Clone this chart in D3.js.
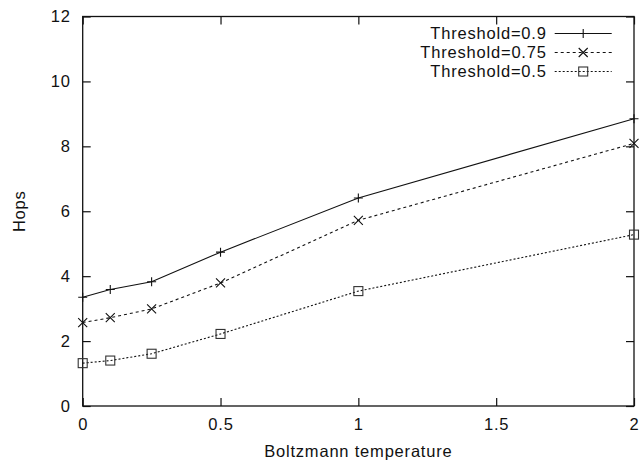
<!DOCTYPE html>
<html>
<head>
<meta charset="utf-8">
<script src="https://cdn.jsdelivr.net/npm/d3@7"></script>
<style>
  body { margin: 0; background: #fff; }
  text { font-family: "Liberation Sans", Arial, sans-serif; fill: #111; letter-spacing: 0.8px; }
</style>
</head>
<body>
<div id="chart"></div>
<script>
// data
let temps = [0, 0.1, 0.25, 0.5, 1, 2];
let hops090 = [3.35, 3.59, 3.83, 4.74, 6.41, 8.85];
let hops075 = [2.57, 2.72, 2.99, 3.79, 5.72, 8.09];
let hops050 = [1.32, 1.40, 1.61, 2.22, 3.54, 5.28];
let seriesNames = ["Threshold=0.9", "Threshold=0.75", "Threshold=0.5"];
let xTicks = [0, 0.5, 1, 1.5, 2];
let yTicks = [0, 2, 4, 6, 8, 10, 12];

let margin = {top: 16.5, right: 7, bottom: 57, left: 82.7};
let W = 641, H = 463;
let width = W - margin.left - margin.right;
let height = H - margin.top - margin.bottom;
let fontSize = "16.5px";

let svg = d3.select("#chart").append("svg")
    .attr("width", W)
    .attr("height", H)
    .append("g")
    .attr("transform", "translate(" + margin.left + "," + margin.top + ")");

let x = d3.scaleLinear().domain([0, 2]).range([0, width]);
let y = d3.scaleLinear().domain([0, 12]).range([height, 0]);

// axes with inward ticks, mirrored on top/right
let tickLen = 8;
svg.append("g")
    .attr("transform", "translate(0," + height + ")")
    .call(d3.axisBottom(x).tickValues(xTicks).tickSizeInner(-tickLen).tickSizeOuter(0)
        .tickPadding(12).tickFormat(d3.format("")))
    .call(g => g.select(".domain").remove());
svg.append("g")
    .call(d3.axisTop(x).tickValues(xTicks).tickSizeInner(-tickLen).tickSizeOuter(0).tickFormat(""))
    .call(g => g.select(".domain").remove());
svg.append("g")
    .call(d3.axisLeft(y).tickValues(yTicks).tickSizeInner(-tickLen).tickSizeOuter(0).tickPadding(12))
    .call(g => g.select(".domain").remove());
svg.append("g")
    .attr("transform", "translate(" + width + ",0)")
    .call(d3.axisRight(y).tickValues(yTicks).tickSizeInner(-tickLen).tickSizeOuter(0).tickFormat(""))
    .call(g => g.select(".domain").remove());

svg.selectAll(".tick line").attr("stroke", "#111").attr("stroke-width", 1.2);
svg.selectAll(".tick text")
    .style("font-size", fontSize)
    .style("font-family", "Liberation Sans, Arial, sans-serif")
    .style("fill", "#111");

// frame
svg.append("rect")
    .attr("width", width)
    .attr("height", height)
    .attr("fill", "none")
    .attr("stroke", "#111")
    .attr("stroke-width", 1.3);

// axis labels
svg.append("text")
    .attr("x", width / 2)
    .attr("y", height + 51)
    .attr("text-anchor", "middle")
    .style("font-size", fontSize)
    .text("Boltzmann temperature");

svg.append("text")
    .attr("transform", "rotate(-90)")
    .attr("x", -height / 2)
    .attr("y", -58)
    .attr("text-anchor", "middle")
    .style("font-size", fontSize)
    .text("Hops");

let series = [
    {name: seriesNames[0], values: hops090, dash: null, marker: "plus"},
    {name: seriesNames[1], values: hops075, dash: "3,3", marker: "cross"},
    {name: seriesNames[2], values: hops050, dash: "2,2", marker: "square"}
];

let line = d3.line()
    .x((d, i) => x(temps[i]))
    .y(d => y(d));

function drawMarker(g, type, cx, cy) {
    let s = 4.5;
    if (type === "plus") {
        g.append("path")
            .attr("d", `M${cx - s},${cy}H${cx + s}M${cx},${cy - s}V${cy + s}`)
            .attr("stroke", "#111").attr("stroke-width", 1.1).attr("fill", "none");
    } else if (type === "cross") {
        g.append("path")
            .attr("d", `M${cx - s},${cy - s}L${cx + s},${cy + s}M${cx - s},${cy + s}L${cx + s},${cy - s}`)
            .attr("stroke", "#111").attr("stroke-width", 1.1).attr("fill", "none");
    } else {
        g.append("rect")
            .attr("x", cx - s).attr("y", cy - s)
            .attr("width", 2 * s).attr("height", 2 * s)
            .attr("stroke", "#333").attr("stroke-width", 1.1).attr("fill", "none");
    }
}

series.forEach(sr => {
    svg.append("path")
        .datum(sr.values)
        .attr("fill", "none")
        .attr("stroke", "#111")
        .attr("stroke-width", 1.1)
        .attr("stroke-dasharray", sr.dash)
        .attr("d", line);
    let g = svg.append("g");
    sr.values.forEach((v, i) => drawMarker(g, sr.marker, x(temps[i]), y(v)));
});

// legend
let legend = svg.append("g");
series.forEach((sr, i) => {
    let ly = 17 + i * 19;
    legend.append("text")
        .attr("x", 464)
        .attr("y", ly)
        .attr("dy", "0.35em")
        .attr("text-anchor", "end")
        .style("font-size", fontSize)
        .text(sr.name);
    legend.append("line")
        .attr("x1", 472).attr("x2", 529)
        .attr("y1", ly).attr("y2", ly)
        .attr("stroke", "#111")
        .attr("stroke-width", 1.1)
        .attr("stroke-dasharray", sr.dash);
    drawMarker(legend, sr.marker, 500.5, ly);
});
</script>
</body>
</html>
